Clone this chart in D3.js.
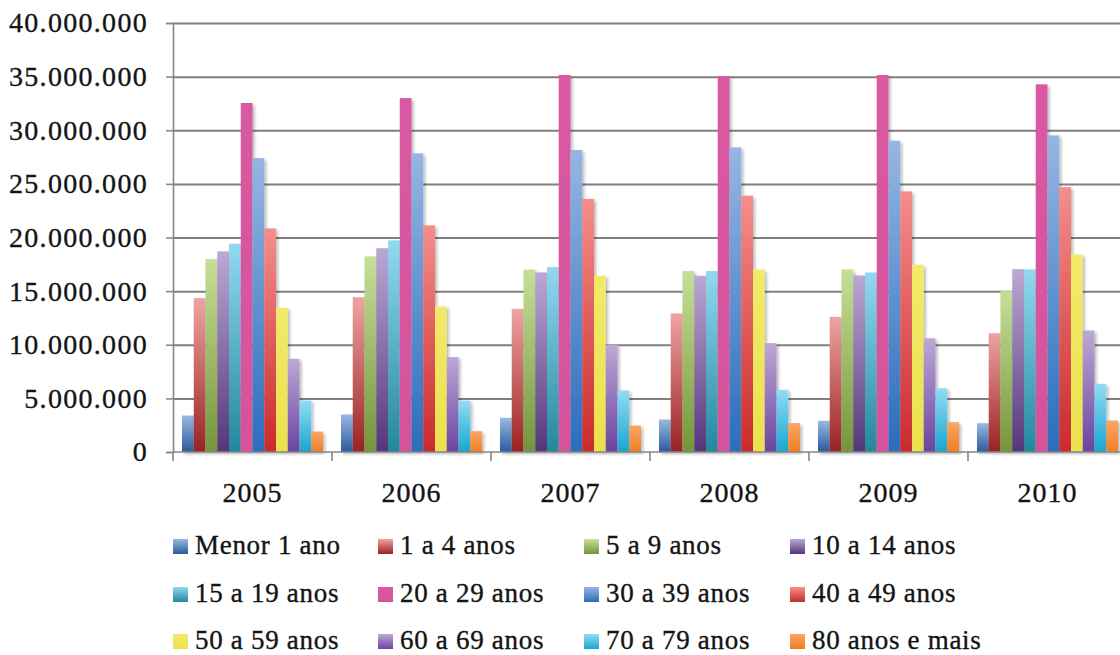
<!DOCTYPE html>
<html>
<head>
<meta charset="utf-8">
<script src="https://cdn.jsdelivr.net/npm/d3@7"></script>
<style>
  html, body { margin: 0; padding: 0; background: #fff; }
  svg { display: block; }
  svg text { font-family: "Liberation Serif", "Times New Roman", Tinos, "DejaVu Serif", serif !important; fill: #141414; stroke: #141414; stroke-width: 0.35px; }
</style>
</head>
<body>
<svg id="chart" width="1120" height="655"></svg>
<script>
// ---- data ----
const years = ["2005", "2006", "2007", "2008", "2009", "2010"];
const seriesNames = ["Menor 1 ano", "1 a 4 anos", "5 a 9 anos", "10 a 14 anos",
  "15 a 19 anos", "20 a 29 anos", "30 a 39 anos", "40 a 49 anos",
  "50 a 59 anos", "60 a 69 anos", "70 a 79 anos", "80 anos e mais"];
const menor1 = [3400000, 3500000, 3190000, 3030000, 2910000, 2690000];
const a1a4   = [14350000, 14440000, 13350000, 12920000, 12600000, 11080000];
const a5a9   = [17990000, 18240000, 17000000, 16870000, 17020000, 15000000];
const a10a14 = [18700000, 19000000, 16740000, 16430000, 16460000, 17050000];
const a15a19 = [19420000, 19730000, 17240000, 16870000, 16740000, 17020000];
const a20a29 = [32540000, 33000000, 35150000, 35060000, 35150000, 34280000];
const a30a39 = [27410000, 27850000, 28160000, 28400000, 29030000, 29520000];
const a40a49 = [20850000, 21130000, 23600000, 23900000, 24300000, 24700000];
const a50a59 = [13450000, 13570000, 16430000, 17020000, 17460000, 18420000];
const a60a69 = [8690000, 8850000, 10000000, 10150000, 10600000, 11330000];
const a70a79 = [4800000, 4800000, 5740000, 5800000, 5950000, 6360000];
const a80    = [1910000, 1940000, 2470000, 2690000, 2780000, 2940000];
const seriesValues = [menor1, a1a4, a5a9, a10a14, a15a19, a20a29, a30a39, a40a49, a50a59, a60a69, a70a79, a80];
const yTicks = [0, 5000000, 10000000, 15000000, 20000000, 25000000, 30000000, 35000000, 40000000];

// ---- styles (gradient top -> bottom) ----
const colors = [
  ["#9bb8e0", "#2a5a9c"],
  ["#eea4a2", "#9a2222"],
  ["#c6df98", "#74953a"],
  ["#bba8d4", "#54367a"],
  ["#92d9f0", "#23879d"],
  ["#d95aa2", "#d6529c"],
  ["#96b6e2", "#2c6cbc"],
  ["#f58e8a", "#ca2a2c"],
  ["#f1ea6a", "#ebe14e"],
  ["#bda8d6", "#6a44a0"],
  ["#92dcf2", "#18a6d2"],
  ["#f9a666", "#f07e22"]
];
const FONT = "'Liberation Serif', 'Times New Roman', Tinos, 'DejaVu Serif', serif";

const svg = d3.select("#chart");
const margin = { left: 173, right: 1127, top: 23, bottom: 452 };

const x0 = d3.scaleBand().domain(years).range([margin.left, margin.right])
  .paddingInner(0.113).paddingOuter(0.0566);
const x1 = d3.scaleBand().domain(d3.range(seriesNames.length)).range([0, x0.bandwidth()]);
const y = d3.scaleLinear().domain([0, 40000000]).range([margin.bottom, margin.top]);

const loc = d3.formatLocale({ decimal: ",", thousands: ".", grouping: [3], currency: ["R$", ""] });
const fmt = loc.format(",d");

const defs = svg.append("defs");
colors.forEach((c, i) => {
  const g = defs.append("linearGradient").attr("id", "g" + i)
    .attr("x1", 0).attr("y1", 0).attr("x2", 0).attr("y2", 1);
  g.append("stop").attr("offset", "0%").attr("stop-color", c[0]);
  g.append("stop").attr("offset", "100%").attr("stop-color", c[1]);
});
const f = defs.append("filter").attr("id", "shadow").attr("x", "-20%").attr("y", "-5%").attr("width", "160%").attr("height", "115%");
f.append("feDropShadow").attr("dx", 2).attr("dy", 2).attr("stdDeviation", 1.6)
  .attr("flood-color", "#000").attr("flood-opacity", 0.28);

// gridlines
svg.append("g").selectAll("line").data(yTicks.filter(d => d > 0)).join("line")
  .attr("x1", margin.left).attr("x2", 1120)
  .attr("y1", d => y(d) + 0.5).attr("y2", d => y(d) + 0.5)
  .attr("stroke", "#7f7f7f").attr("stroke-width", 2);

// y axis
const yAxis = svg.append("g").attr("transform", `translate(${margin.left},0)`)
  .call(d3.axisLeft(y).tickValues(yTicks).tickFormat(fmt).tickSize(7).tickPadding(18));
yAxis.attr("font-family", FONT);
yAxis.select(".domain").attr("stroke", "#868686").attr("stroke-width", 1.6);
yAxis.selectAll(".tick line").attr("stroke", "#868686").attr("stroke-width", 1.6);
yAxis.selectAll(".tick text").attr("font-size", "28px").attr("fill", "#141414")
  .attr("letter-spacing", "1.3px").style("font-family", FONT);

// bars
const groups = svg.append("g").selectAll("g").data(years).join("g")
  .attr("transform", d => `translate(${x0(d)},0)`);
groups.selectAll("rect")
  .data((yr, yi) => seriesValues.map((vals, si) => ({ si, v: vals[yi] })))
  .join("rect")
  .attr("x", d => x1(d.si))
  .attr("width", x1.bandwidth())
  .attr("y", d => y(d.v))
  .attr("height", d => y(0) - y(d.v))
  .attr("fill", d => `url(#g${d.si})`)
  .attr("filter", "url(#shadow)");

// x axis
const xAxis = svg.append("g").attr("transform", `translate(0,${margin.bottom})`)
  .call(d3.axisBottom(x0).tickSize(0).tickPadding(30));
xAxis.attr("font-family", FONT);
xAxis.select(".domain").remove();
xAxis.append("line").attr("x1", margin.left).attr("x2", 1120).attr("y1", 0).attr("y2", 0)
  .attr("stroke", "#868686").attr("stroke-width", 1.6);
const bounds = years.map(yr => x0(yr) - x0.step() * x0.paddingInner() / 2).concat([margin.right]);
xAxis.selectAll("line.bt").data(bounds).join("line").attr("class", "bt")
  .attr("x1", d => d).attr("x2", d => d).attr("y1", 0).attr("y2", 9)
  .attr("stroke", "#868686").attr("stroke-width", 1.6);
xAxis.selectAll(".tick text").attr("font-size", "28px").attr("fill", "#141414")
  .attr("letter-spacing", "1px").style("font-family", FONT);

// legend
const colX = [173, 378, 584, 790];
const rowY = [539, 587, 634];
const leg = svg.append("g").attr("font-family", FONT).selectAll("g").data(seriesNames).join("g")
  .attr("transform", (d, i) => `translate(${colX[i % 4]},${rowY[Math.floor(i / 4)]})`);
leg.append("rect").attr("width", 15).attr("height", 15).attr("fill", (d, i) => `url(#g${i})`);
leg.append("text").attr("x", 22).attr("y", 15).attr("font-size", "27px")
  .attr("letter-spacing", "0.7px").style("font-family", FONT).text(d => d);
</script>
</body>
</html>
